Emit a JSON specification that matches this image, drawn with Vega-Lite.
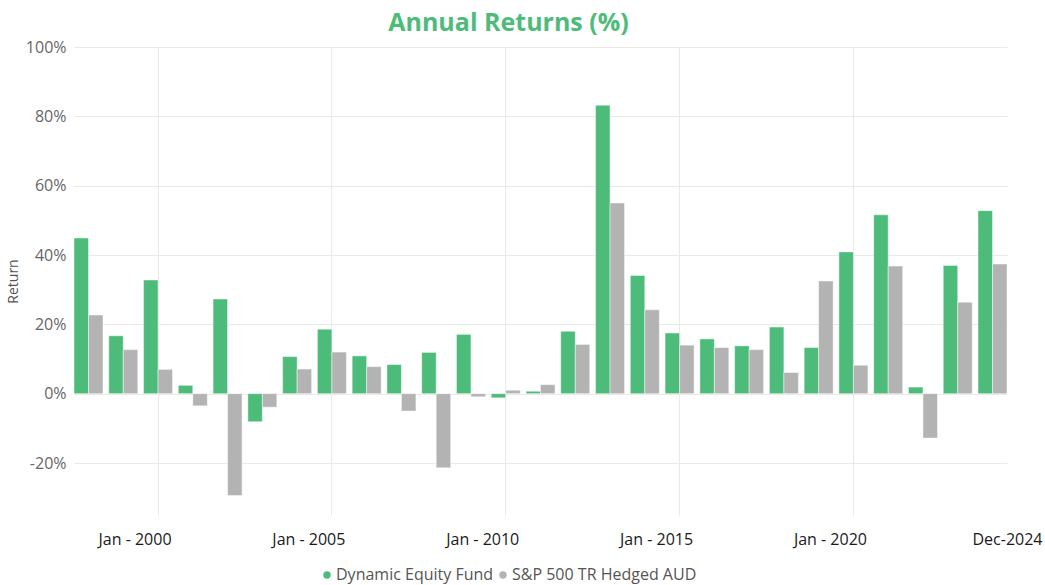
{
  "$schema": "https://vega.github.io/schema/vega-lite/v6.json",
  "width": 933,
  "height": 468,
  "autosize": {"type": "none"},
  "padding": {"left": 74, "top": 47, "right": 38, "bottom": 70},
  "background": "white",
  "title": {
    "text": "Annual Returns (%)",
    "anchor": "middle",
    "frame": "group",
    "dx": -32,
    "offset": 3,
    "font": "Open Sans",
    "fontSize": 25,
    "fontWeight": "bold",
    "color": "#4DBB7A"
  },
  "data": {
    "values": [
      {"year": 1998, "series": "Dynamic Equity Fund", "ret": 44.9},
      {"year": 1998, "series": "S&P 500 TR Hedged AUD", "ret": 22.7},
      {"year": 1999, "series": "Dynamic Equity Fund", "ret": 16.7},
      {"year": 1999, "series": "S&P 500 TR Hedged AUD", "ret": 12.7},
      {"year": 2000, "series": "Dynamic Equity Fund", "ret": 32.8},
      {"year": 2000, "series": "S&P 500 TR Hedged AUD", "ret": 7.0},
      {"year": 2001, "series": "Dynamic Equity Fund", "ret": 2.4},
      {"year": 2001, "series": "S&P 500 TR Hedged AUD", "ret": -3.5},
      {"year": 2002, "series": "Dynamic Equity Fund", "ret": 27.3},
      {"year": 2002, "series": "S&P 500 TR Hedged AUD", "ret": -29.4},
      {"year": 2003, "series": "Dynamic Equity Fund", "ret": -8.1},
      {"year": 2003, "series": "S&P 500 TR Hedged AUD", "ret": -3.9},
      {"year": 2004, "series": "Dynamic Equity Fund", "ret": 10.7},
      {"year": 2004, "series": "S&P 500 TR Hedged AUD", "ret": 7.1},
      {"year": 2005, "series": "Dynamic Equity Fund", "ret": 18.6},
      {"year": 2005, "series": "S&P 500 TR Hedged AUD", "ret": 12.0},
      {"year": 2006, "series": "Dynamic Equity Fund", "ret": 10.9},
      {"year": 2006, "series": "S&P 500 TR Hedged AUD", "ret": 7.8},
      {"year": 2007, "series": "Dynamic Equity Fund", "ret": 8.4},
      {"year": 2007, "series": "S&P 500 TR Hedged AUD", "ret": -5.0},
      {"year": 2008, "series": "Dynamic Equity Fund", "ret": 11.9},
      {"year": 2008, "series": "S&P 500 TR Hedged AUD", "ret": -21.4},
      {"year": 2009, "series": "Dynamic Equity Fund", "ret": 17.1},
      {"year": 2009, "series": "S&P 500 TR Hedged AUD", "ret": -0.9},
      {"year": 2010, "series": "Dynamic Equity Fund", "ret": -1.2},
      {"year": 2010, "series": "S&P 500 TR Hedged AUD", "ret": 1.0},
      {"year": 2011, "series": "Dynamic Equity Fund", "ret": 0.7},
      {"year": 2011, "series": "S&P 500 TR Hedged AUD", "ret": 2.6},
      {"year": 2012, "series": "Dynamic Equity Fund", "ret": 18.0},
      {"year": 2012, "series": "S&P 500 TR Hedged AUD", "ret": 14.2},
      {"year": 2013, "series": "Dynamic Equity Fund", "ret": 83.2},
      {"year": 2013, "series": "S&P 500 TR Hedged AUD", "ret": 55.0},
      {"year": 2014, "series": "Dynamic Equity Fund", "ret": 34.1},
      {"year": 2014, "series": "S&P 500 TR Hedged AUD", "ret": 24.2},
      {"year": 2015, "series": "Dynamic Equity Fund", "ret": 17.5},
      {"year": 2015, "series": "S&P 500 TR Hedged AUD", "ret": 14.0},
      {"year": 2016, "series": "Dynamic Equity Fund", "ret": 15.8},
      {"year": 2016, "series": "S&P 500 TR Hedged AUD", "ret": 13.3},
      {"year": 2017, "series": "Dynamic Equity Fund", "ret": 13.8},
      {"year": 2017, "series": "S&P 500 TR Hedged AUD", "ret": 12.7},
      {"year": 2018, "series": "Dynamic Equity Fund", "ret": 19.2},
      {"year": 2018, "series": "S&P 500 TR Hedged AUD", "ret": 6.1},
      {"year": 2019, "series": "Dynamic Equity Fund", "ret": 13.3},
      {"year": 2019, "series": "S&P 500 TR Hedged AUD", "ret": 32.5},
      {"year": 2020, "series": "Dynamic Equity Fund", "ret": 40.9},
      {"year": 2020, "series": "S&P 500 TR Hedged AUD", "ret": 8.2},
      {"year": 2021, "series": "Dynamic Equity Fund", "ret": 51.6},
      {"year": 2021, "series": "S&P 500 TR Hedged AUD", "ret": 36.8},
      {"year": 2022, "series": "Dynamic Equity Fund", "ret": 1.9},
      {"year": 2022, "series": "S&P 500 TR Hedged AUD", "ret": -12.8},
      {"year": 2023, "series": "Dynamic Equity Fund", "ret": 37.0},
      {"year": 2023, "series": "S&P 500 TR Hedged AUD", "ret": 26.4},
      {"year": 2024, "series": "Dynamic Equity Fund", "ret": 52.8},
      {"year": 2024, "series": "S&P 500 TR Hedged AUD", "ret": 37.4}
    ]
  },
  "mark": {"type": "bar", "stroke": "#ffffff", "strokeOpacity": 0.45, "strokeWidth": 1},
  "encoding": {
    "x": {
      "field": "year",
      "type": "ordinal",
      "scale": {"paddingInner": 0.166, "paddingOuter": 0},
      "axis": {
        "title": null,
        "values": [2000, 2005, 2010, 2015, 2020, 2024],
        "labelExpr": "datum.value == 2024 ? 'Dec-2024' : 'Jan - ' + datum.value",
        "labelAngle": 0,
        "labelFont": "Open Sans",
        "labelFontSize": 16,
        "labelColor": "#1a1a1a",
        "labelPadding": 16,
        "labelOffset": {"condition": {"test": "datum.value == 2024", "value": 15}, "value": -23},
        "domain": false,
        "ticks": false,
        "grid": true,
        "bandPosition": 0.5,
        "gridColor": "#ede9e3",
        "gridWidth": 1,
        "gridOpacity": {"condition": {"test": "datum.value == 2024", "value": 0}, "value": 1}
      }
    },
    "xOffset": {
      "field": "series",
      "type": "nominal",
      "sort": ["Dynamic Equity Fund", "S&P 500 TR Hedged AUD"],
      "scale": {"paddingInner": 0, "paddingOuter": 0}
    },
    "y": {
      "field": "ret",
      "type": "quantitative",
      "scale": {"domain": [-35, 100], "nice": false, "zero": false},
      "axis": {
        "title": "Return",
        "titleFont": "Open Sans",
        "titleFontSize": 14,
        "titleFontWeight": "normal",
        "titleColor": "#555555",
        "titlePadding": 5,
        "values": [-20, 0, 20, 40, 60, 80, 100],
        "labelExpr": "datum.value + '%'",
        "labelFont": "Open Sans",
        "labelFontSize": 16,
        "labelColor": "#666666",
        "labelPadding": 8,
        "domain": false,
        "ticks": false,
        "grid": true,
        "gridColor": "#ece9e5",
        "gridWidth": 1
      }
    },
    "color": {
      "field": "series",
      "type": "nominal",
      "sort": ["Dynamic Equity Fund", "S&P 500 TR Hedged AUD"],
      "scale": {"domain": ["Dynamic Equity Fund", "S&P 500 TR Hedged AUD"], "range": ["#4DBC7B", "#B3B3B3"]},
      "legend": {
        "title": null,
        "orient": "none",
        "direction": "horizontal",
        "legendX": 245,
        "legendY": 520,
        "symbolType": "circle",
        "symbolSize": 55,
        "symbolStrokeWidth": 0,
        "labelFont": "Open Sans",
        "labelFontSize": 16,
        "labelColor": "#555555",
        "labelOffset": 1,
        "labelLimit": 400,
        "columnPadding": 1
      }
    }
  },
  "config": {
    "view": {"stroke": null}
  }
}
